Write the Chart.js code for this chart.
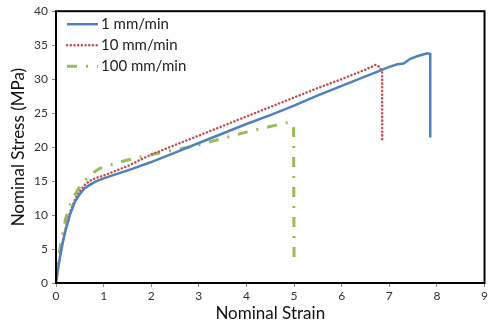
<!DOCTYPE html>
<html>
<head>
<meta charset="utf-8">
<script src="https://cdn.jsdelivr.net/npm/chart.js@4/dist/chart.umd.min.js"></script>
<style>
html,body{margin:0;padding:0;background:#fff;}
#wrap{width:490px;height:329px;position:relative;}
</style>
</head>
<body>
<div id="wrap"><canvas id="c" width="490" height="329"></canvas></div>
<script>
const seriesLabels = ['1 mm/min', '10 mm/min', '100 mm/min'];

const strain1 = [0, 0.05, 0.1, 0.15, 0.2, 0.3, 0.4, 0.5, 0.6, 0.7, 0.85, 1.0, 1.3, 1.6, 2.0, 2.5, 3.0, 3.5, 4.0, 4.5, 5.0, 5.5, 6.0, 6.5, 6.82, 7.0, 7.17, 7.3, 7.44, 7.6, 7.8, 7.86, 7.86];
const stress1 = [0, 2.4, 4.4, 6.2, 7.7, 10.2, 12.0, 13.1, 13.9, 14.4, 15.0, 15.4, 16.1, 16.8, 17.8, 19.2, 20.6, 22.0, 23.4, 24.7, 26.1, 27.6, 29.0, 30.4, 31.3, 31.8, 32.2, 32.3, 33.0, 33.4, 33.8, 33.7, 21.4];

const strain2 = [0, 0.05, 0.1, 0.2, 0.3, 0.4, 0.5, 0.6, 0.7, 0.85, 1.0, 1.5, 2.0, 2.5, 3.0, 3.5, 4.0, 4.5, 5.0, 5.5, 6.0, 6.5, 6.71, 6.8, 6.85, 6.85];
const stress2 = [0, 2.5, 4.6, 8.0, 10.5, 12.3, 13.5, 14.4, 15.0, 15.5, 15.8, 17.2, 18.9, 20.3, 21.7, 23.1, 24.5, 25.9, 27.3, 28.7, 30.0, 31.4, 32.1, 31.8, 31.0, 20.8];

const strain3 = [0, 0.05, 0.1, 0.2, 0.3, 0.4, 0.5, 0.7, 0.9, 1.2, 1.5, 2.0, 2.5, 3.0, 3.35, 4.0, 4.6, 4.93, 4.99, 5.0];
const stress3 = [0, 3.5, 5.8, 9.4, 11.6, 13.0, 14.2, 15.8, 16.8, 17.5, 18.1, 18.9, 19.6, 20.3, 21.0, 22.2, 23.2, 23.7, 22.8, 2.5];

const xTicks = [0, 1, 2, 3, 4, 5, 6, 7, 8, 9];
const yTicks = [0, 5, 10, 15, 20, 25, 30, 35, 40];

function pts(xs, ys) { return xs.map((x, i) => ({x: x, y: ys[i]})); }

const FONT = 'Lato, "Open Sans", "Liberation Sans", sans-serif';

const boxPlugin = {
  id: 'box',
  afterDatasetsDraw(chart) {
    const a = chart.chartArea, ctx = chart.ctx;
    ctx.save();
    ctx.strokeStyle = '#000';
    ctx.lineWidth = 2;
    ctx.strokeRect(a.left, a.top, a.right - a.left, a.bottom - a.top);
    ctx.restore();
  }
};

const legendPlugin = {
  id: 'insideLegend',
  afterDatasetsDraw(chart) {
    const ctx = chart.ctx, a = chart.chartArea;
    ctx.save();
    chart.data.datasets.forEach((ds, i) => {
      const y = a.top + 13 + i * 21;
      const x0 = a.left + 11, x1 = a.left + 42;
      ctx.beginPath();
      ctx.strokeStyle = ds.borderColor;
      ctx.lineWidth = ds.borderWidth;
      ctx.lineCap = ds.borderCapStyle || 'butt';
      ctx.setLineDash(ds.borderDash || []);
      ctx.moveTo(x0, y);
      ctx.lineTo(x1, y);
      ctx.stroke();
      ctx.setLineDash([]);
      ctx.fillStyle = '#222';
      ctx.font = '15px ' + FONT;
      ctx.textBaseline = 'middle';
      ctx.textAlign = 'left';
      ctx.fillText(ds.label, a.left + 45, y);
    });
    ctx.restore();
  }
};

new Chart(document.getElementById('c'), {
  type: 'line',
  data: {
    datasets: [
      {label: seriesLabels[0], data: pts(strain1, stress1), borderColor: '#4F81BD', borderWidth: 2.5, borderCapStyle: 'butt'},
      {label: seriesLabels[1], data: pts(strain2, stress2), borderColor: '#C0504D', borderWidth: 2.5, borderDash: [0.1, 3.6], borderCapStyle: 'round'},
      {label: seriesLabels[2], data: pts(strain3, stress3), borderColor: '#9BBB59', borderWidth: 3, borderDash: [10, 9, 2, 9], borderCapStyle: 'butt'}
    ]
  },
  options: {
    responsive: false,
    animation: false,
    parsing: true,
    elements: {point: {radius: 0}, line: {tension: 0, fill: false}},
    layout: {padding: {left: 0, right: 2, top: 11, bottom: 0}},
    plugins: {legend: {display: false}, tooltip: {enabled: false}},
    scales: {
      x: {
        type: 'linear', min: 0, max: 9,
        afterFit(s) { s.height = 46; },
        afterBuildTicks(s) { s.ticks = xTicks.map(v => ({value: v})); },
        grid: {drawOnChartArea: false, drawTicks: true, tickLength: 4, color: '#888'},
        border: {display: false},
        ticks: {color: '#333', font: {size: 12, family: FONT}, padding: 2, maxRotation: 0},
        title: {display: true, text: 'Nominal Strain', color: '#111', font: {size: 17, family: FONT}, padding: {top: 0, bottom: 5}}
      },
      y: {
        type: 'linear', min: 0, max: 40,
        afterFit(s) { s.width = 56; },
        afterBuildTicks(s) { s.ticks = yTicks.map(v => ({value: v})); },
        grid: {drawOnChartArea: false, drawTicks: true, tickLength: 4, color: '#888'},
        border: {display: false},
        ticks: {color: '#333', font: {size: 12, family: FONT}, padding: 4},
        title: {display: true, text: 'Nominal Stress (MPa)', color: '#111', font: {size: 17, family: FONT}, padding: {top: 8, bottom: 0}}
      }
    }
  },
  plugins: [boxPlugin, legendPlugin]
});
</script>
</body>
</html>
